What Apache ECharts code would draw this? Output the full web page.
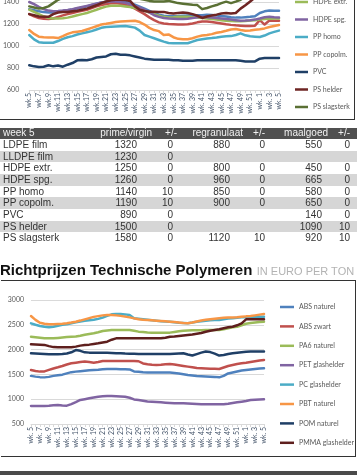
<!DOCTYPE html>
<html><head><meta charset="utf-8">
<script src="https://cdn.jsdelivr.net/npm/echarts@6/dist/echarts.min.js"></script>
<style>
html,body{margin:0;padding:0;background:#fff;}
body{width:357px;height:475px;position:relative;overflow:hidden;font-family:"Liberation Sans",Arial,sans-serif;}
#c1{position:absolute;left:0;top:-60px;width:357px;height:180px;}
#c2{position:absolute;left:0;top:280px;width:357px;height:176px;}
.frame{position:absolute;box-sizing:border-box;pointer-events:none;border-color:#333;border-style:solid;}
#f1{left:-5px;top:-10px;width:360px;height:130px;border-width:0 1.5px 1.5px 0;}
#f2{left:1px;top:279.5px;width:354.5px;height:177px;border-width:1.5px 1.5px 1.5px 0;}
#tbl{position:absolute;left:0;top:128px;width:357px;}
.row{position:absolute;left:0;width:357px;font-size:10px;color:#333;}
.row span{position:absolute;white-space:nowrap;}
.hdr{background:#505050;color:#f2f2f2;}
.alt{background:#d6d6d6;}
#title{position:absolute;left:0;top:261px;line-height:17px;white-space:nowrap;}
#title b{font-size:15px;color:#111;font-weight:bold;}
#title i{font-style:normal;font-size:11px;color:#b3b3b3;}
#bar{position:absolute;left:0;top:471px;width:357px;height:4px;background:#4a4a4a;}
</style></head>
<body>
<div id="c1"></div>
<div class="frame" id="f1"></div>
<div id="tbl"></div>
<div id="title"><b>Richtprijzen Technische Polymeren</b> <i>IN EURO PER TON</i></div>
<div id="c2"></div>
<div class="frame" id="f2"></div>
<div id="bar"></div>
<script>
// ---------- data: top chart ----------
const weeksTop = ['wk.5','wk.6','wk.7','wk.8','wk.9','wk.10','wk.11','wk.12','wk.13','wk.14','wk.15','wk.16','wk.17','wk.18','wk.19','wk.20','wk.21','wk.22','wk.23','wk.24','wk.25','wk.26','wk. 27','wk. 28','wk. 29','wk. 30','wk. 31','wk. 32','wk. 33','wk. 34','wk. 35','wk. 36','wk. 37','wk. 38','wk. 39','wk. 40','wk. 41','wk. 42','wk. 43','wk. 44','wk. 45','wk. 46','wk. 47','wk. 48','wk. 49','wk. 50','wk. 51','wk. 52','wk. 1','wk. 2','wk. 3','wk. 4','wk. 5'];
const ldpeFilm = [1335,1325,1315,1308,1305,1305,1310,1318,1325,1332,1340,1350,1360,1372,1385,1395,1402,1408,1410,1408,1400,1390,1375,1358,1340,1320,1300,1285,1275,1270,1270,1272,1275,1278,1280,1280,1280,1285,1282,1278,1272,1268,1262,1258,1258,1262,1265,1270,1300,1315,1322,1320,1320];
const lldpeFilm = [1290,1270,1255,1248,1245,1250,1265,1278,1290,1300,1310,1320,1330,1345,1360,1372,1382,1388,1390,1385,1375,1360,1340,1315,1290,1260,1235,1215,1205,1200,1198,1195,1195,1198,1205,1215,1222,1222,1218,1212,1205,1198,1192,1188,1185,1182,1182,1185,1235,1195,1232,1230,1230];
const hdpeExtr = [1330,1310,1290,1270,1255,1250,1250,1252,1258,1268,1280,1290,1300,1315,1330,1345,1358,1365,1365,1365,1360,1355,1345,1335,1320,1305,1290,1275,1265,1260,1262,1265,1265,1265,1262,1258,1255,1250,1245,1240,1235,1230,1228,1225,1225,1228,1232,1235,1240,1245,1248,1250,1250];
const hdpeSpg = [1400,1380,1355,1335,1322,1315,1318,1322,1328,1335,1345,1355,1365,1375,1385,1395,1400,1405,1405,1400,1392,1380,1365,1350,1330,1305,1280,1265,1255,1250,1248,1245,1245,1248,1255,1262,1265,1262,1258,1255,1250,1245,1240,1235,1230,1232,1235,1240,1250,1262,1265,1262,1260];
const ppHomo = [1100,1060,1035,1030,1030,1030,1045,1065,1080,1090,1105,1115,1125,1135,1150,1165,1172,1176,1178,1180,1182,1175,1167,1140,1100,1085,1070,1055,1040,1028,1024,1024,1024,1025,1040,1055,1062,1068,1072,1078,1085,1088,1090,1100,1115,1097,1088,1085,1082,1095,1115,1128,1140];
const ppCopolm = [1145,1110,1085,1080,1078,1078,1072,1090,1110,1124,1130,1136,1150,1165,1180,1195,1202,1210,1218,1222,1226,1228,1230,1218,1195,1165,1145,1135,1100,1105,1080,1065,1062,1062,1070,1085,1095,1100,1108,1120,1128,1138,1150,1155,1145,1138,1140,1148,1152,1160,1172,1182,1190];
const pvc = [825,815,810,812,825,815,822,812,830,845,870,872,870,880,895,900,905,925,930,920,920,915,905,895,885,880,875,875,875,875,870,870,865,865,865,870,870,870,870,870,870,870,870,870,865,860,860,860,885,890,890,890,890];
const psHelder = [1290,1280,1268,1265,1265,1290,1305,1308,1310,1315,1320,1330,1340,1355,1370,1390,1405,1415,1420,1420,1418,1410,1360,1330,1318,1312,1312,1310,1310,1300,1295,1300,1305,1300,1290,1275,1255,1268,1278,1285,1295,1300,1295,1300,1340,1370,1405,1440,1470,1490,1500,1500,1500];
const psSlagsterk = [1360,1350,1340,1345,1360,1390,1420,1440,1450,1460,1470,1480,1490,1500,1500,1500,1500,1490,1480,1470,1460,1450,1440,1430,1420,1410,1405,1405,1405,1410,1400,1390,1385,1380,1375,1372,1335,1345,1360,1372,1390,1403,1390,1403,1420,1450,1480,1510,1540,1560,1570,1580,1580];
const topNames = ['LDPE film','LLDPE film','HDPE extr.','HDPE spg.','PP homo','PP copolm.','PVC','PS helder','PS slagsterk'];
const topValues = [ldpeFilm,lldpeFilm,hdpeExtr,hdpeSpg,ppHomo,ppCopolm,pvc,psHelder,psSlagsterk];
const topColors = ['#4F81BD','#C0504D','#9BBB59','#8064A2','#4BACC6','#F79646','#1F3F66','#6E2523','#5A7034'];

// ---------- data: table ----------
const tblHeader = ['week 5','prime/virgin','+/-','regranulaat','+/-','maalgoed','+/-'];
const tblProducts = ['LDPE film','LLDPE film','HDPE extr.','HDPE spg.','PP homo','PP copolm.','PVC','PS helder','PS slagsterk'];
const tblPrime = [1320,1230,1250,1260,1140,1190,890,1500,1580];
const tblPrimeChg = [0,0,0,0,10,10,0,0,0];
const tblRegr = [880,'',800,960,850,900,'','',1120];
const tblRegrChg = [0,'',0,0,0,0,'','',10];
const tblMaal = [550,'',450,665,580,650,140,1090,920];
const tblMaalChg = [0,'',0,0,0,0,0,10,10];

// ---------- data: bottom chart ----------
const weeksBot = ['wk. 5','wk. 6','wk. 7','wk. 8','wk. 9','wk. 10','wk. 11','wk. 12','wk. 13','wk. 14','wk. 15','wk. 16','wk. 17','wk. 18','wk. 19','wk. 20','wk. 21','wk. 22','wk. 23','wk. 24','wk. 25','wk. 26','wk. 27','wk. 28','wk. 29','wk. 30','wk. 31','wk. 32','wk. 33','wk. 34','wk. 35','wk. 36','wk. 37','wk. 38','wk. 39','wk. 40','wk. 41','wk. 42','wk. 43','wk. 44','wk. 45','wk. 46','wk. 47','wk. 48','wk. 49','wk. 50','wk. 51','wk. 52','wk. 1','wk. 2','wk. 3','wk. 4','wk. 5'];
const absNaturel = [1470,1455,1445,1440,1450,1470,1485,1495,1520,1545,1556,1565,1575,1585,1590,1595,1605,1610,1610,1610,1605,1603,1600,1560,1555,1545,1538,1536,1536,1536,1536,1536,1530,1520,1505,1490,1480,1470,1465,1460,1455,1450,1441,1470,1520,1540,1560,1580,1590,1600,1610,1620,1623];
const absZwart = [1590,1570,1556,1560,1590,1620,1643,1670,1700,1725,1737,1750,1758,1750,1737,1750,1771,1771,1771,1771,1771,1771,1771,1771,1765,1720,1705,1695,1690,1695,1705,1710,1700,1685,1670,1657,1645,1630,1623,1618,1615,1612,1610,1640,1670,1690,1710,1724,1735,1750,1765,1780,1791];
const pa6Naturel = [2260,2250,2240,2230,2227,2227,2235,2245,2255,2260,2265,2280,2300,2315,2330,2350,2375,2385,2395,2395,2395,2395,2395,2380,2362,2355,2345,2342,2342,2342,2342,2342,2355,2370,2382,2385,2388,2390,2392,2395,2395,2395,2395,2410,2430,2450,2462,2490,2520,2535,2545,2555,2563];
const petGlashelder = [865,863,863,865,870,880,883,875,870,900,940,984,1000,1018,1035,1051,1058,1065,1065,1060,1055,1051,1030,995,984,970,955,950,943,937,930,925,920,917,917,915,910,905,900,897,897,897,897,900,910,925,937,950,965,984,990,995,997];
const pcGlashelder = [2530,2500,2476,2460,2449,2460,2480,2500,2510,2530,2550,2565,2580,2590,2600,2620,2645,2680,2711,2718,2718,2710,2698,2630,2620,2610,2600,2590,2580,2570,2565,2563,2550,2540,2535,2530,2545,2563,2570,2580,2590,2595,2597,2610,2625,2630,2640,2650,2652,2655,2660,2662,2664];
const pbtNaturel = [2677,2600,2540,2520,2510,2510,2515,2520,2530,2545,2563,2585,2610,2635,2660,2675,2690,2698,2698,2690,2680,2665,2650,2630,2610,2600,2595,2590,2583,2578,2570,2563,2555,2545,2535,2530,2545,2565,2585,2600,2610,2620,2630,2640,2645,2648,2650,2660,2670,2677,2690,2705,2718];
const pomNaturel = [1925,1922,1918,1912,1908,1906,1906,1910,1920,1945,1990,1975,1945,1939,1939,1939,1939,1935,1930,1925,1925,1920,1918,1915,1912,1912,1912,1912,1912,1912,1912,1912,1915,1920,1925,1900,1880,1910,1939,1960,1950,1920,1880,1890,1910,1925,1935,1945,1955,1960,1960,1960,1960];
const pmmaGlashelder = [2107,2105,2100,2095,2070,2050,2046,2046,2046,2046,2060,2080,2093,2100,2115,2127,2145,2160,2200,2227,2227,2227,2227,2227,2227,2227,2227,2227,2227,2227,2240,2260,2265,2275,2285,2295,2305,2320,2335,2360,2380,2395,2410,2430,2449,2460,2490,2530,2610,2610,2610,2610,2610];
const botNames = ['ABS naturel','ABS zwart','PA6 naturel','PET glashelder','PC glashelder','PBT naturel','POM naturel','PMMA glashelder'];
const botValues = [absNaturel,absZwart,pa6Naturel,petGlashelder,pcGlashelder,pbtNaturel,pomNaturel,pmmaGlashelder];
const botColors = ['#4F81BD','#C0504D','#9BBB59','#8064A2','#4BACC6','#F79646','#1F3F66','#5E1F1D'];

// ---------- table ----------
(function(){
  const tbl = document.getElementById('tbl');
  const rowH = 11.7, hdrH = 10.8;
  const hdrCols = [{l:3},{r:152},{r:177},{r:243},{r:265},{r:328},{r:350}];
  const valCols = [{l:3},{r:137},{r:173},{r:230},{r:265},{r:322},{r:350}];
  function mkRow(cells, cols, top, h, cls){
    const d = document.createElement('div');
    d.className = 'row' + (cls ? ' '+cls : '');
    d.style.top = top + 'px'; d.style.height = h + 'px'; d.style.lineHeight = h + 'px';
    cells.forEach((t, k) => {
      const s = document.createElement('span');
      s.textContent = t;
      if (cols[k].l !== undefined) s.style.left = cols[k].l + 'px';
      else s.style.right = (357 - cols[k].r) + 'px';
      d.appendChild(s);
    });
    tbl.appendChild(d);
  }
  mkRow(tblHeader, hdrCols, 0, hdrH, 'hdr');
  tblProducts.forEach((p, i) => {
    mkRow([p, tblPrime[i], tblPrimeChg[i], tblRegr[i], tblRegrChg[i], tblMaal[i], tblMaalChg[i]],
      valCols, hdrH + i*rowH, rowH, i % 2 === 1 ? 'alt' : '');
  });
})();

// ---------- charts ----------
const FONT = 'Lato, "Liberation Sans", sans-serif';
function mkOption(cfg){
  return {
    animation: false,
    color: cfg.colors,
    grid: cfg.grid,
    legend: Object.assign({
      orient: 'vertical', icon: 'rect', padding: 0, itemWidth: cfg.legendW, itemHeight: 2.5,
      textStyle: {fontSize: 7, color: '#595959', fontFamily: FONT, lineHeight: 8},
      data: cfg.names
    }, cfg.legend),
    xAxis: {
      type: 'category', data: cfg.cats, boundaryGap: false,
      axisLine: {lineStyle: {color: '#d9d9d9'}},
      axisTick: {show: true, length: 3, interval: 0, lineStyle: {color: '#d9d9d9'}},
      axisLabel: {rotate: 90, interval: 1, fontSize: 7, color: '#44546a', fontFamily: FONT, margin: 3}
    },
    yAxis: {
      type: 'value', min: cfg.min, max: cfg.max, interval: cfg.interval,
      axisLine: {show: false}, axisTick: {show: false},
      splitLine: {lineStyle: {color: '#d9d9d9', width: 1}},
      axisLabel: {fontSize: 7, color: '#595959', fontFamily: FONT, margin: cfg.labelMargin,
        formatter: v => String(v)}
    },
    series: cfg.names.map((n, k) => ({
      name: n, type: 'line', data: cfg.values[k], symbol: 'none',
      lineStyle: {width: 2.5, cap: 'round', join: 'round'}
    }))
  };
}
const ch1 = echarts.init(document.getElementById('c1'), null, {renderer: 'canvas'});
ch1.setOption(mkOption({
  colors: topColors, names: topNames, values: topValues, cats: weeksTop,
  grid: {left: 27, right: 78, top: 18, bottom: 30, containLabel: false},
  legend: {left: 295, top: 23, itemGap: 9.5},
  legendW: 13, min: 600, max: 1800, interval: 200, labelMargin: 10
}));
const ch2 = echarts.init(document.getElementById('c2'), null, {renderer: 'canvas'});
ch2.setOption(mkOption({
  colors: botColors, names: botNames, values: botValues, cats: weeksBot,
  grid: {left: 31, right: 93, top: 20, bottom: 32, containLabel: false},
  legend: {left: 280, top: 23, itemGap: 11.4},
  legendW: 14, min: 500, max: 3000, interval: 500, labelMargin: 7
}));
</script>
</body></html>
